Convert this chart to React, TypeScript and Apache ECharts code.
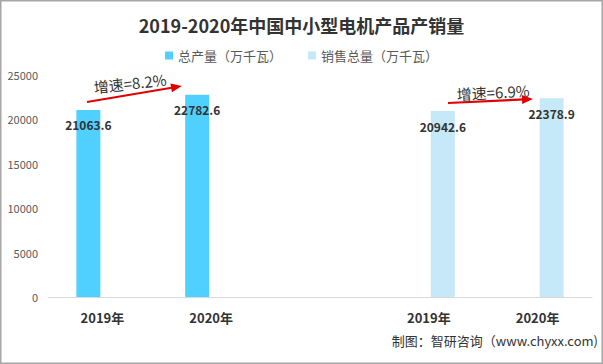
import React, { useEffect, useRef } from "react";
import * as echarts from "echarts";

const categories = ["2019年", "2020年", "", "2019年", "2020年"];
const production = [21063.6, 22782.6, null, null, null];
const sales = [null, null, null, 20942.6, 22378.9];
const yTicks = { min: 0, max: 25000, interval: 5000 };
const seriesNames = ["总产量（万千瓦）", "销售总量（万千瓦）"];
const growthTexts = ["增速=8.2%", "增速=6.9%"];

const FONT = "'Noto Sans CJK SC', 'Noto Sans', sans-serif";

function arrow(x1: number, y1: number, x2: number, y2: number, color: string) {
  const dx = x2 - x1;
  const dy = y2 - y1;
  const len = Math.sqrt(dx * dx + dy * dy);
  const ux = dx / len;
  const uy = dy / len;
  const headL = 11;
  const headW = 4.5;
  const bx = x2 - ux * headL;
  const by = y2 - uy * headL;
  return [
    {
      type: "line",
      shape: { x1, y1, x2: bx + ux * 2, y2: by + uy * 2 },
      style: { stroke: color, lineWidth: 2.2 },
      silent: true,
    },
    {
      type: "polygon",
      shape: {
        points: [
          [x2, y2],
          [bx - uy * headW, by + ux * headW],
          [bx + uy * headW, by - ux * headW],
        ],
      },
      style: { fill: color },
      silent: true,
    },
  ];
}

export default function App() {
  const ref = useRef<HTMLDivElement>(null);
  useEffect(() => {
    if (!ref.current) return;
    const chart = echarts.init(ref.current, undefined, { renderer: "svg" });
    const labelStyle = {
      show: true,
      position: "insideTop",
      distance: 9,
      color: "#333333",
      fontWeight: "bold",
      fontSize: 12,
      fontFamily: FONT,
    };
    chart.setOption({
      animation: false,
      backgroundColor: "#ffffff",
      title: {
        text: "2019-2020年中国中小型电机产品产销量",
        left: "center",
        top: 11,
        textStyle: { fontSize: 18, fontWeight: "bold", color: "#333333", fontFamily: FONT },
      },
      legend: {
        top: 44,
        left: "center",
        itemWidth: 8,
        itemHeight: 8,
        itemGap: 26,
        icon: "rect",
        textStyle: { fontSize: 13, color: "#595959", fontFamily: FONT },
        data: seriesNames,
      },
      grid: { left: 48, right: 11, top: 75, bottom: 67, containLabel: false },
      xAxis: {
        type: "category",
        data: categories,
        axisLine: { lineStyle: { color: "#d9d9d9" } },
        axisTick: { show: false },
        axisLabel: {
          margin: 14,
          fontSize: 13,
          fontWeight: "bold",
          color: "#333333",
          fontFamily: FONT,
        },
      },
      yAxis: {
        type: "value",
        min: yTicks.min,
        max: yTicks.max,
        interval: yTicks.interval,
        axisLine: { show: false },
        axisTick: { show: false },
        splitLine: { show: false },
        axisLabel: {
          fontSize: 11,
          color: "#595959",
          margin: 10,
          fontFamily: FONT,
          formatter: (v: number) => String(v),
        },
      },
      series: [
        {
          name: seriesNames[0],
          type: "bar",
          data: production,
          barWidth: 24,
          barGap: "17%",
          itemStyle: { color: "#4fd0ff" },
          label: labelStyle,
        },
        {
          name: seriesNames[1],
          type: "bar",
          data: sales,
          barWidth: 24,
          itemStyle: { color: "#c5e9f8" },
          label: labelStyle,
        },
      ],
      graphic: [
        {
          type: "rect",
          shape: { x: 0.75, y: 0.75, width: 601.5, height: 362.5 },
          style: { fill: "none", stroke: "#a6a6a6", lineWidth: 1.5 },
          silent: true,
        },
        ...arrow(87, 102, 182, 86, "#e00000"),
        ...arrow(448, 103, 533, 99, "#e00000"),
        {
          type: "text",
          x: 130,
          y: 83,
          rotation: (6.3 * Math.PI) / 180,
          style: {
            text: growthTexts[0],
            fontSize: 15,
            fill: "#333333",
            fontFamily: FONT,
            align: "center",
            verticalAlign: "middle",
          },
        },
        {
          type: "text",
          x: 493,
          y: 92,
          rotation: (3 * Math.PI) / 180,
          style: {
            text: growthTexts[1],
            fontSize: 15,
            fill: "#333333",
            fontFamily: FONT,
            align: "center",
            verticalAlign: "middle",
          },
        },
        {
          type: "text",
          right: 5,
          top: 334,
          style: {
            text: "制图：智研咨询（www.chyxx.com)",
            fontSize: 13,
            fill: "#333333",
            fontFamily: FONT,
          },
        },
      ],
    });
    return () => chart.dispose();
  }, []);
  return (
    <div
      ref={ref}
      style={{ position: "fixed", left: 0, top: 0, width: 603, height: 364 }}
    />
  );
}
